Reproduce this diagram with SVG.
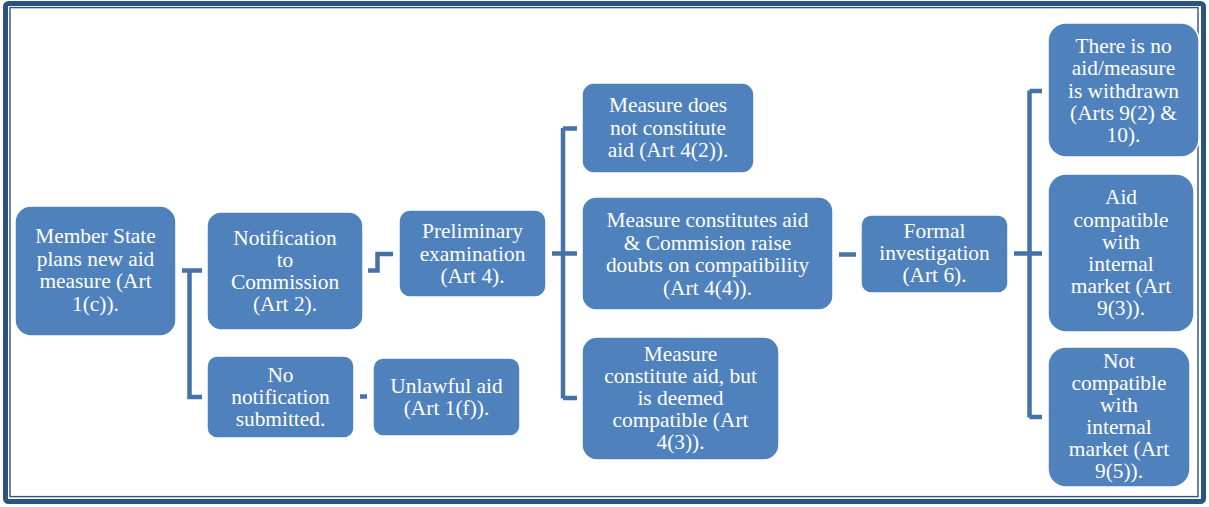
<svg xmlns="http://www.w3.org/2000/svg" width="1209" height="507" viewBox="0 0 1209 507">
<style>
.frame{fill:none;stroke:#2C5285}
.box{fill:#4F81BD;stroke:#FFFFFF;stroke-width:1.5}
.lbl{font-family:'Liberation Serif','Times New Roman',serif;font-size:21.4px;fill:#FFFFFF;text-anchor:middle}
.con{fill:none;stroke:#4672AA;stroke-width:4.5}
</style>
<rect width="1209" height="507" fill="#FFFFFF"/>
<rect class="frame" x="5.5" y="3.5" width="1198" height="498" rx="3" stroke-width="5"/>
<rect class="frame" x="10" y="7.6" width="1188" height="489" stroke-width="1.4"/>

<g id="connectors">
  <path class="con" d="M182,270.5 H202 M189.5,270.5 V397 H202"/>
  <path class="con" d="M360,396.5 H367"/>
  <path class="con" d="M368,270.5 H377.5 V254 H393"/>
  <path class="con" d="M552,253.5 H577 M563,128 V398.5 M563,128.5 H577 M563,398 H577"/>
  <path class="con" d="M839,254.5 H856"/>
  <path class="con" d="M1014,253.5 H1042 M1029.5,90.5 V417.5 M1029.5,91 H1042 M1029.5,417 H1042"/>
</g>

<g id="member-state">
  <rect class="box" x="15" y="206" width="161" height="130" rx="16"/>
  <text class="lbl" x="95.5" y="243">Member State</text>
  <text class="lbl" x="95.5" y="265.5">plans new aid</text>
  <text class="lbl" x="95.5" y="288">measure (Art</text>
  <text class="lbl" x="95.5" y="310.5">1(c)).</text>
</g>

<g id="notification">
  <rect class="box" x="207" y="212" width="156" height="118" rx="14"/>
  <text class="lbl" x="285" y="245">Notification</text>
  <text class="lbl" x="285" y="267">to</text>
  <text class="lbl" x="285" y="289">Commission</text>
  <text class="lbl" x="285" y="311">(Art 2).</text>
</g>

<g id="no-notification">
  <rect class="box" x="207" y="356" width="147" height="82" rx="10"/>
  <text class="lbl" x="280.5" y="382">No</text>
  <text class="lbl" x="280.5" y="404">notification</text>
  <text class="lbl" x="280.5" y="426">submitted.</text>
</g>

<g id="unlawful">
  <rect class="box" x="373" y="358" width="147" height="78" rx="10"/>
  <text class="lbl" x="446.5" y="393">Unlawful aid</text>
  <text class="lbl" x="446.5" y="415">(Art 1(f)).</text>
</g>

<g id="preliminary">
  <rect class="box" x="399" y="210" width="147" height="87" rx="11"/>
  <text class="lbl" x="472.5" y="238">Preliminary</text>
  <text class="lbl" x="472.5" y="260.5">examination</text>
  <text class="lbl" x="472.5" y="283">(Art 4).</text>
</g>

<g id="no-aid">
  <rect class="box" x="582" y="83" width="172" height="90" rx="12"/>
  <text class="lbl" x="668" y="112">Measure does</text>
  <text class="lbl" x="668" y="134.5">not constitute</text>
  <text class="lbl" x="668" y="157">aid (Art 4(2)).</text>
</g>

<g id="doubts">
  <rect class="box" x="582" y="197" width="251" height="113" rx="14"/>
  <text class="lbl" x="707.5" y="227">Measure constitutes aid</text>
  <text class="lbl" x="707.5" y="249.5">&amp; Commision raise</text>
  <text class="lbl" x="707.5" y="272">doubts on compatibility</text>
  <text class="lbl" x="707.5" y="294.5">(Art 4(4)).</text>
</g>

<g id="compatible-prelim">
  <rect class="box" x="582" y="337" width="197" height="123" rx="15"/>
  <text class="lbl" x="680.5" y="361">Measure</text>
  <text class="lbl" x="680.5" y="383">constitute aid, but</text>
  <text class="lbl" x="680.5" y="405">is deemed</text>
  <text class="lbl" x="680.5" y="427">compatible (Art</text>
  <text class="lbl" x="680.5" y="449">4(3)).</text>
</g>

<g id="formal">
  <rect class="box" x="861" y="215" width="147" height="78" rx="10"/>
  <text class="lbl" x="934.5" y="238">Formal</text>
  <text class="lbl" x="934.5" y="260">investigation</text>
  <text class="lbl" x="934.5" y="282">(Art 6).</text>
</g>

<g id="withdrawn">
  <rect class="box" x="1048" y="23" width="151" height="134" rx="18"/>
  <text class="lbl" x="1123.5" y="53">There is no</text>
  <text class="lbl" x="1123.5" y="75">aid/measure</text>
  <text class="lbl" x="1123.5" y="97.5">is withdrawn</text>
  <text class="lbl" x="1123.5" y="120">(Arts 9(2) &amp;</text>
  <text class="lbl" x="1123.5" y="142">10).</text>
</g>

<g id="compatible-formal">
  <rect class="box" x="1048" y="174" width="146" height="158" rx="18"/>
  <text class="lbl" x="1121" y="204">Aid</text>
  <text class="lbl" x="1121" y="226.5">compatible</text>
  <text class="lbl" x="1121" y="249">with</text>
  <text class="lbl" x="1121" y="271">internal</text>
  <text class="lbl" x="1121" y="293">market (Art</text>
  <text class="lbl" x="1121" y="315">9(3)).</text>
</g>

<g id="not-compatible">
  <rect class="box" x="1048" y="347" width="142" height="140" rx="18"/>
  <text class="lbl" x="1119" y="368">Not</text>
  <text class="lbl" x="1119" y="390">compatible</text>
  <text class="lbl" x="1119" y="412">with</text>
  <text class="lbl" x="1119" y="434">internal</text>
  <text class="lbl" x="1119" y="456">market (Art</text>
  <text class="lbl" x="1119" y="478">9(5)).</text>
</g>
</svg>
